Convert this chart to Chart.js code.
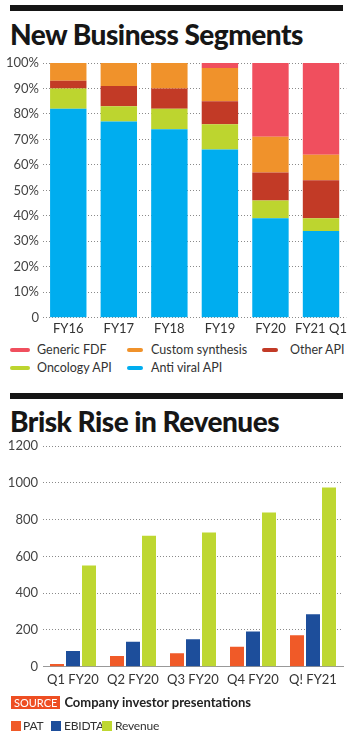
<!DOCTYPE html>
<html>
<head>
<meta charset="utf-8">
<script src="https://cdn.jsdelivr.net/npm/chart.js@4/dist/chart.umd.min.js"></script>
<style>
  html, body { margin: 0; padding: 0; background: #fff; }
  body { width: 350px; height: 735px; position: relative; overflow: hidden;
         font-family: Lato, "Open Sans", sans-serif; color: #333; }
  .rule { position: absolute; left: 10px; width: 333px; height: 6px; background: #151515; }
  .title { position: absolute; left: 10px; margin: 0; font-family: Lato, sans-serif; font-weight: 900;
           font-size: 28px; line-height: 30px; letter-spacing: -0.5px; color: #161616; white-space: nowrap; }
  canvas { position: absolute; left: 0; }
  .leg { position: absolute; font-size: 12.5px; line-height: 16px; white-space: nowrap; color: #333; }
  .leg i { position: absolute; display: block; }
  .line i { height: 4px; border-radius: 2px; top: 6px; }
  .sq { font-size: 12px; letter-spacing: -0.2px; }
  .sq i { width: 10px; height: 10px; top: 3px; }
  .src { position: absolute; left: 11px; top: 696px; font-size: 13px; line-height: 13px; white-space: nowrap; }
  .src b.tag { display: inline-block; background: #ee4e22; color: #fff; font-weight: 400;
               font-size: 11px; padding: 0 3px; margin-right: 4px; line-height: 13px; }
  .src span { font-weight: 700; color: #222; }
</style>
</head>
<body>
<div class="rule" style="top:5px"></div>
<h1 class="title" style="top:19px">New Business Segments</h1>
<canvas id="seg" width="350" height="290" style="top:50px;width:350px;height:290px"></canvas>
<div id="seg-legend"></div>

<div class="rule" style="top:393px"></div>
<h1 class="title" style="top:406px">Brisk Rise in Revenues</h1>
<canvas id="rev" width="350" height="265" style="top:430px;width:350px;height:265px"></canvas>
<div class="src"><b class="tag">SOURCE</b><span>Company investor presentations</span></div>
<div id="rev-legend"></div>

<script>
"use strict";

// --- Data ------------------------------------------------------------------ //
const segYears = ["FY16", "FY17", "FY18", "FY19", "FY20", "FY21 Q1"];
const antiViral = [82, 77, 74, 66, 39, 34];
const oncology = [8, 6, 8, 10, 7, 5];
const otherApi = [3, 8, 8, 9, 11, 15];
const customSynth = [7, 9, 10, 13, 14, 10];
const genericFdf = [0, 0, 0, 2, 29, 36];

const quarters = ["Q1 FY20", "Q2 FY20", "Q3 FY20", "Q4 FY20", "Q! FY21"];
const pat = [15, 58, 73, 109, 171];
const ebidta = [85, 136, 149, 191, 285];
const revenue = [550, 712, 730, 839, 975];

const C = {
  fdf: "#f04f5e", custom: "#f0922b", other: "#c23a26", onc: "#bdd52f", anti: "#00adef",
  pat: "#f05a28", ebidta: "#1d4e9b", rev: "#bed731",
};

const TICK_FONT = { family: "Lato, 'Open Sans', sans-serif", size: 13 };
const GRID = { color: "#8a8a8a", lineWidth: 1 };
const dotted = { dash: [1, 2] };

// --- Chart 1: stacked share ------------------------------------------------ //
new Chart(document.getElementById("seg"), {
  type: "bar",
  data: {
    labels: segYears,
    datasets: [
      { label: "Anti viral API", data: antiViral, backgroundColor: C.anti },
      { label: "Oncology API", data: oncology, backgroundColor: C.onc },
      { label: "Other API", data: otherApi, backgroundColor: C.other },
      { label: "Custom synthesis", data: customSynth, backgroundColor: C.custom },
      { label: "Generic FDF", data: genericFdf, backgroundColor: C.fdf },
    ],
  },
  options: {
    responsive: false,
    animation: false,
    layout: { padding: { top: 13, right: 1, left: 0, bottom: 0 } },
    datasets: { bar: { categoryPercentage: 1, barPercentage: 0.72 } },
    plugins: { legend: { display: false }, tooltip: { enabled: false } },
    scales: {
      x: {
        stacked: true,
        grid: { display: false, drawTicks: false },
        border: { display: false },
        ticks: { font: TICK_FONT, color: "#333", padding: 3, maxRotation: 0, autoSkip: false },
        afterFit: (s) => { s.height = 22.3; },
      },
      y: {
        stacked: true, min: 0, max: 100,
        grid: { ...GRID, drawTicks: false },
        border: { display: false, ...dotted },
        ticks: { stepSize: 10, font: TICK_FONT, color: "#444", padding: 4,
                 callback: (v) => (v === 0 ? "0" : v + "%") },
        afterFit: (s) => { s.width = 43; },
      },
    },
  },
});

// --- Chart 2: grouped revenue ---------------------------------------------- //
new Chart(document.getElementById("rev"), {
  type: "bar",
  data: {
    labels: quarters,
    datasets: [
      { label: "PAT", data: pat, backgroundColor: C.pat },
      { label: "EBIDTA", data: ebidta, backgroundColor: C.ebidta },
      { label: "Revenue", data: revenue, backgroundColor: C.rev },
    ],
  },
  options: {
    responsive: false,
    animation: false,
    layout: { padding: { top: 16, right: 7, left: 0, bottom: 0 } },
    datasets: { bar: { categoryPercentage: 0.8, barPercentage: 0.875 } },
    plugins: { legend: { display: false }, tooltip: { enabled: false } },
    scales: {
      x: {
        grid: { display: false, drawTicks: false },
        border: { display: true, color: "#999", width: 1 },
        ticks: { font: TICK_FONT, color: "#333", padding: 5, maxRotation: 0, autoSkip: false },
        afterFit: (s) => { s.height = 28.3; },
      },
      y: {
        min: 0, max: 1200,
        grid: { ...GRID, drawTicks: false },
        border: { display: false, ...dotted },
        ticks: { stepSize: 200, font: TICK_FONT, color: "#444", padding: 5,
                 callback: (v) => String(v) },
        afterFit: (s) => { s.width = 43; },
      },
    },
  },
});

// --- HTML legends ---------------------------------------------------------- //
function legendItem(host, cls, color, text, x, y, markW, textX) {
  const d = document.createElement("div");
  d.className = "leg " + cls;
  d.style.left = x + "px";
  d.style.top = y + "px";
  const i = document.createElement("i");
  i.style.background = color;
  i.style.left = "0px";
  if (markW) i.style.width = markW + "px";
  d.appendChild(i);
  const s = document.createElement("span");
  s.style.marginLeft = textX + "px";
  s.textContent = text;
  d.appendChild(s);
  host.appendChild(d);
}

const segLeg = document.getElementById("seg-legend");
legendItem(segLeg, "line", C.fdf, "Generic FDF", 10, 342, 20, 27);
legendItem(segLeg, "line", C.custom, "Custom synthesis", 127, 342, 16, 24);
legendItem(segLeg, "line", C.other, "Other API", 262, 342, 16, 28);
legendItem(segLeg, "line", C.onc, "Oncology API", 10, 360, 20, 27);
legendItem(segLeg, "line", C.anti, "Anti viral API", 127, 360, 16, 24);

const revLeg = document.getElementById("rev-legend");
legendItem(revLeg, "sq", C.pat, "PAT", 11, 718, 0, 12);
legendItem(revLeg, "sq", C.ebidta, "EBIDTA", 51, 718, 0, 13);
legendItem(revLeg, "sq", C.rev, "Revenue", 102, 718, 0, 13);
</script>
</body>
</html>
